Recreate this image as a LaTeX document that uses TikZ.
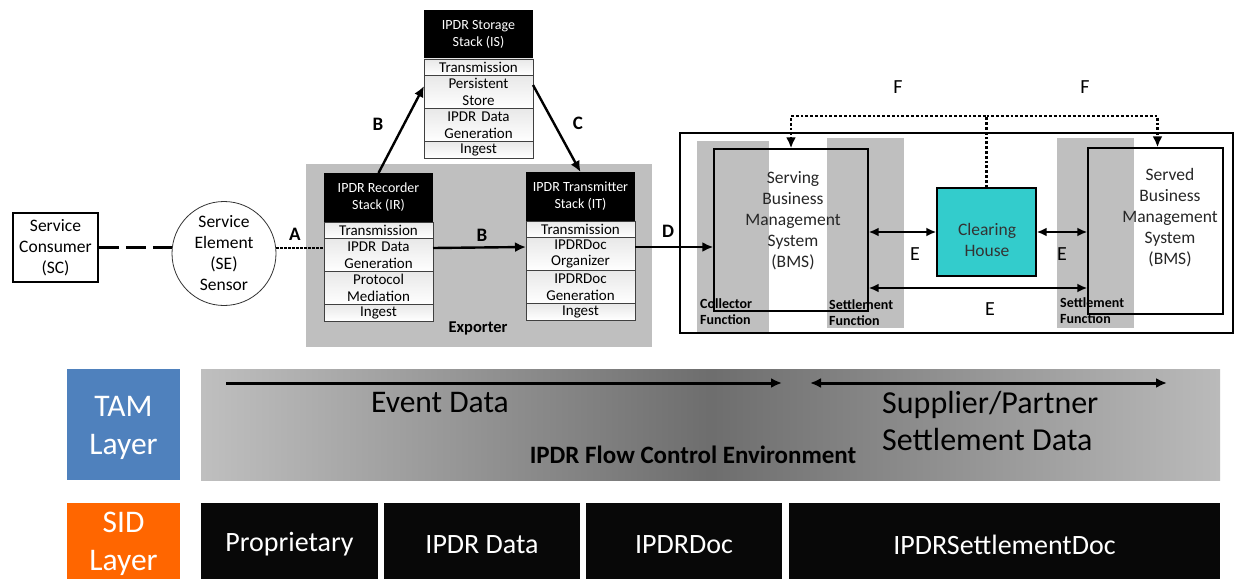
\documentclass[tikz,border=0pt]{standalone}
\usepackage{fontspec}
\setmainfont{Carlito}
\usetikzlibrary{positioning}
\usetikzlibrary{arrows.meta}
\definecolor{tamblue}{HTML}{4F81BD}
\definecolor{sidorange}{HTML}{FF6600}
\definecolor{clearteal}{HTML}{33CCCC}
\definecolor{boxgray}{HTML}{BFBFBF}
\tikzset{
    stackhead/.style={fill=black, text=white, minimum width=109pt, minimum height=49pt,
        inner sep=0pt, outer sep=0pt, align=center, font=\fontsize{14}{17}\selectfont},
    stackrow/.style={draw=black!75, line width=0.6pt, top color=black!9, bottom color=white,
        minimum width=109pt, text width=105pt, align=center, inner sep=0pt, outer sep=0pt,
        font=\fontsize{15}{16.5}\selectfont},
    onerow/.style={stackrow, minimum height=16.5pt},
    tworow/.style={stackrow, minimum height=33pt},
    plaintext/.style={align=center, inner sep=0pt, text=black!85, font=\fontsize{17.5}{21}\selectfont},
    lbl/.style={inner sep=0pt, font=\fontsize{19}{22}\selectfont\bfseries},
    thinlbl/.style={inner sep=0pt, font=\fontsize{20}{22}\selectfont},
    fnlbl/.style={anchor=west, align=left, inner sep=0pt, font=\fontsize{14}{16}\selectfont\bfseries},
    strip/.style={fill=boxgray, inner sep=0pt, outer sep=0pt},
    bmsbox/.style={draw=black, line width=1.4pt, inner sep=0pt},
    flow/.style={draw=black, line width=2.4pt, -{Latex[length=11pt,width=10pt]}},
    flowboth/.style={draw=black, line width=2.4pt, {Latex[length=10pt,width=9pt]}-{Latex[length=10pt,width=9pt]}},
    fdot/.style={draw=black, line width=2.8pt, dash pattern=on 2.8pt off 2pt, -{Latex[length=11pt,width=10pt]}},
    adot/.style={draw=black, line width=2.2pt, dash pattern=on 2.2pt off 1.8pt},
    consumerlink/.style={draw=black, line width=2.6pt, dash pattern=on 20pt off 7pt},
    layertext/.style={text=white, align=center, inner sep=0pt, font=\fontsize{31.5}{38}\selectfont},
    sidcell/.style={fill=black!97, text=white, minimum height=83pt, inner sep=0pt,
        font=\fontsize{28}{32}\selectfont},
    bigflow/.style={draw=black, line width=3pt, -{Latex[length=11pt,width=10pt]}},
    bigboth/.style={draw=black, line width=3pt, {Latex[length=11pt,width=10pt]}-{Latex[length=11pt,width=10pt]}}
}

\begin{document}
\begin{tikzpicture}[x=1pt, y=-1pt]
\useasboundingbox (0,0) rectangle (1236,578);

\node[draw=black, line width=1.5pt, minimum width=85pt, minimum height=69pt, align=center,
  inner sep=0pt, font=\fontsize{17.5}{21}\selectfont] (sc) at (55.5,247.5) {Service\\Consumer\\(SC)};
\node[circle, draw=black!80, line width=0.8pt, minimum size=104pt, align=center, inner sep=0pt,
  font=\fontsize{17.5}{21}\selectfont] (se) at (224,253.5) {Service\\Element\\(SE)\\Sensor};
\draw[style={consumerlink}] (sc.east) -- (sc.east -| se.west);

\node[fill=boxgray, minimum width=346pt, minimum height=183pt, inner sep=0pt] (exporter) at (479,255.5) {};
\node[lbl, font=\fontsize{16.5}{19}\selectfont\bfseries] (exportlbl) at (478,328) {Exporter};

\node[stackhead] (irhead) at (378.5,197.5) {IPDR Recorder\\Stack (IR)};
\node[onerow, below=0pt of irhead] (irtx) {Transmission};
\node[tworow, below=0pt of irtx] (irgen) {IPDR Data\\Generation};
\node[tworow, below=0pt of irgen] (irmed) {Protocol\\Mediation};
\node[onerow, below=0pt of irmed] (iring) {Ingest};

\node[stackhead] (ishead) at (478.5,34.5) {IPDR Storage\\Stack (IS)};
\node[onerow, below=0pt of ishead] (istx) {Transmission};
\node[tworow, below=0pt of istx] (isstore) {Persistent\\Store};
\node[tworow, below=0pt of isstore] (isgen) {IPDR Data\\Generation};
\node[onerow, below=0pt of isgen] (ising) {Ingest};

\node[stackhead] (ithead) at (580.5,196.5) {IPDR Transmitter\\Stack (IT)};
\node[onerow, below=0pt of ithead] (ittx) {Transmission};
\node[tworow, below=0pt of ittx] (itorg) {IPDRDoc\\Organizer};
\node[tworow, below=0pt of itorg] (itgen) {IPDRDoc\\Generation};
\node[onerow, below=0pt of itgen] (iting) {Ingest};

\draw[style={adot}] ([yshift=7pt]irgen.west -| se.east) -- ([yshift=7pt]irgen.west);
\draw[style={flow}] (irhead.north) -- ([yshift=6pt]isstore.west);
\draw[style={flow}] ([yshift=7pt]isstore.east) -- (ithead.north);
\draw[style={flow}] ([yshift=7pt]irgen.east) -- ([yshift=7pt]itorg.west);
\node[lbl] (lbla) at (295,234) {A};
\node[lbl] (lblb) at (378,124) {B};
\node[lbl] (lblc) at (578,123) {C};
\node[lbl] (lblbb) at (482,235) {B};
\node[lbl] (lbld) at (668,231) {D};

\node[draw=black, line width=1.2pt, minimum width=553pt, minimum height=200pt, inner sep=0pt] (settle) at (956.5,233) {};
\node[strip, minimum width=72pt, minimum height=191pt] (colstrip) at (733,236.5) {};
\node[strip, minimum width=77pt, minimum height=190pt] (setstripa) at (865.5,233) {};
\node[strip, minimum width=77pt, minimum height=190pt] (setstripb) at (1095.5,233) {};
\node[bmsbox, minimum width=154pt, minimum height=162pt] (srvbms) at (791,230) {};
\node[bmsbox, minimum width=135pt, minimum height=166pt] (sdbms) at (1155.5,231) {};
\node[plaintext] (srvtxt) at (793,221) {Serving\\Business\\Management\\System\\(BMS)};
\node[plaintext] (sdtxt) at (1170,218) {Served\\Business\\Management\\System\\(BMS)};
\node[draw=black, line width=1.4pt, fill=clearteal, minimum width=99pt, minimum height=88pt,
  inner sep=0pt] (clr) at (986.5,232) {};
\node[plaintext, text=black!80] (clrtxt) at (987,240) {Clearing\\House};
\node[fnlbl] (colfn) at (700,312) {Collector\\Function};
\node[fnlbl] (setfna) at (829,313) {Settlement\\Function};
\node[fnlbl] (setfnb) at (1060,311) {Settlement\\Function};

\draw[style={flow}] ([yshift=7pt]itorg.east) -- ([yshift=7pt]itorg.east -| srvbms.west);
\coordinate (fy) at (987,116);
\coordinate (ey) at (987,288);
\draw[style={fdot}] (clr.north) -- (clr.north |- fy) -| (srvbms.north);
\draw[style={fdot}] (clr.north |- fy) -| ([xshift=2pt]sdbms.north);
\draw[style={flowboth}] (srvbms.east |- clr.west) -- (clr.west);
\draw[style={flowboth}] (clr.east) -- (clr.east -| sdbms.west);
\draw[style={flowboth}] (srvbms.east |- ey) -- (sdbms.west |- ey);
\node[thinlbl] (lblf) at (898,87) {F};
\node[thinlbl] (lblff) at (1085,87) {F};
\node[thinlbl] (lble) at (915,254) {E};
\node[thinlbl] (lblee) at (1062,254) {E};
\node[thinlbl] (lbleee) at (990,309) {E};

\node[fill=tamblue, minimum width=113pt, minimum height=111pt, inner sep=0pt] (tam) at (123.5,424.5) {};
\node[layertext] (tamtxt) at (123.5,427.5) {TAM\\Layer};
\node[left color=black!25, right color=black!27, middle color=black!57, minimum width=1019pt,
  minimum height=111pt, inner sep=0pt] (envbar) at (710.5,424.5) {};
\coordinate (evstart) at (226,383);
\coordinate (evend) at (782,383);
\coordinate (spstart) at (810,383);
\coordinate (spend) at (1167,383);
\draw[style={bigflow}] (evstart) -- (evend);
\draw[style={bigboth}] (spstart) -- (spend);
\node[inner sep=0pt, font=\fontsize{31.5}{37}\selectfont] (evtxt) at (440,403) {Event Data};
\node[anchor=west, align=left, inner sep=0pt, font=\fontsize{32}{37}\selectfont] (sptxt) at (882,421) {Supplier/Partner\\Settlement Data};
\node[inner sep=0pt, font=\fontsize{25}{28}\selectfont\bfseries] (envtxt) at (693,455) {IPDR Flow Control Environment};

\node[fill=sidorange, minimum width=113pt, minimum height=83pt, inner sep=0pt] (sid) at (123.5,544.5) {};
\node[layertext] (sidtxt) at (123.5,544) {SID\\Layer};
\node[sidcell, minimum width=177pt] (propcell) at (289.5,544.5) {Proprietary};
\node[sidcell, minimum width=196pt] (datacell) at (482,544.5) {IPDR Data};
\node[sidcell, minimum width=196pt] (doccell) at (684,544.5) {IPDRDoc};
\node[sidcell, minimum width=431pt] (setcell) at (1004.5,544.5) {IPDRSettlementDoc};
\end{tikzpicture}
\end{document}
